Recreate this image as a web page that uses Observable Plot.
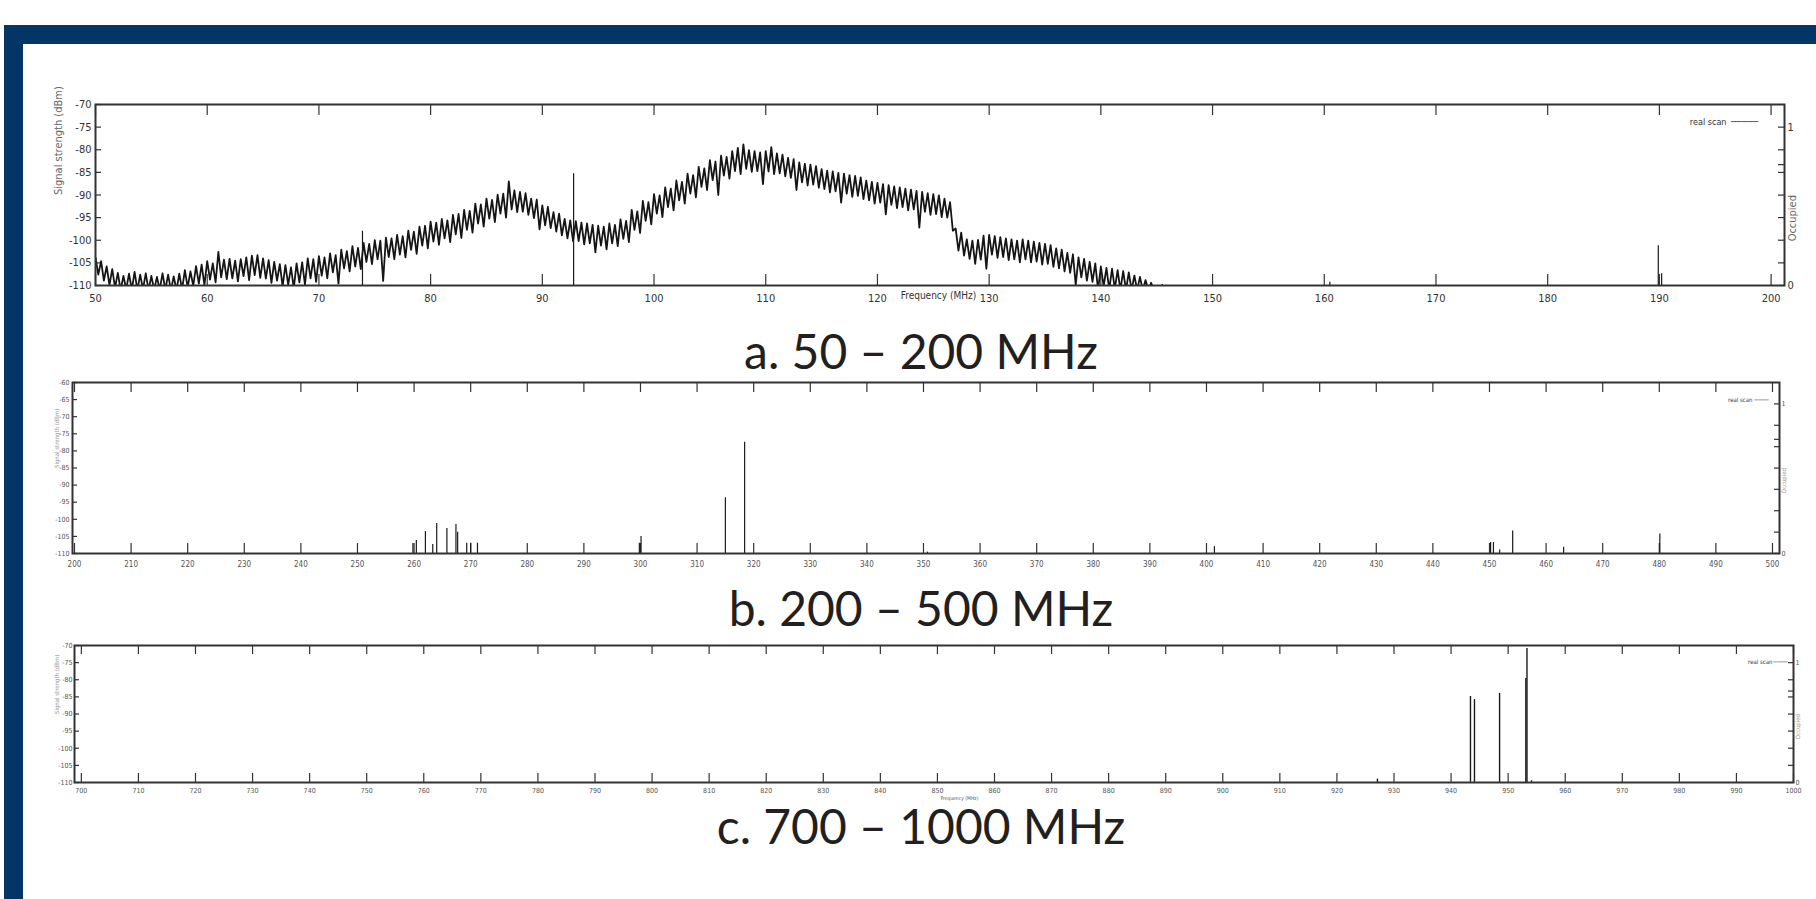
<!DOCTYPE html>
<html><head><meta charset="utf-8">
<script src="https://cdn.jsdelivr.net/npm/d3@7"></script>
<script src="https://cdn.jsdelivr.net/npm/@observablehq/plot@0.6"></script>
<style>
html,body{margin:0;padding:0;background:#fff;width:1816px;height:899px;overflow:hidden;}
#page{position:relative;width:1816px;height:899px;background:#fff;}
.band{position:absolute;background:#033567;}
.title{position:absolute;left:0;width:1842px;text-align:center;font-family:Lato,"Noto Sans",sans-serif;font-size:48px;line-height:48px;color:#231f20;white-space:nowrap;}
.panel{position:absolute;left:0;width:1816px;}
.panel svg{position:absolute;left:0;top:0;}
</style></head><body><div id="page"></div>
<script>
// ---------- DATA ----------
// Panel a: 50 - 200 MHz
const aXTicks = [50,60,70,80,90,100,110,120,130,140,150,160,170,180,190,200];
const aYTicks = [-110,-105,-100,-95,-90,-85,-80,-75,-70];
// scan samples every 0.25 MHz from 50 to 145 MHz (dBm), one row of four per MHz
const aScanDbm = [
-103.8,-107.6,-104.6,-108.9, -105.8,-109.9,-106.4,-110.5, -107.2,-111.0,-107.9,-110.8, -107.4,-110.9,-107.0,-111.0,
-107.6,-110.8,-107.3,-111.0, -107.9,-111.0,-108.1,-110.9, -107.3,-110.9,-107.6,-111.0, -108.0,-111.0,-107.4,-110.9,
-106.6,-110.4,-106.9,-110.1, -105.7,-109.6,-105.4,-109.9, -104.6,-108.7,-105.1,-109.3, -102.6,-108.2,-104.3,-108.6,
-104.1,-108.4,-104.5,-109.1, -104.2,-107.9,-103.8,-108.8, -103.4,-107.7,-103.3,-108.3, -104.0,-108.5,-104.4,-109.4,
-104.8,-108.9,-105.3,-110.2, -105.5,-109.8,-106.0,-110.6, -105.1,-109.3,-104.9,-109.8, -104.0,-108.4,-104.2,-109.2,
-103.5,-107.8,-103.8,-108.4, -102.9,-107.1,-103.3,-109.6, -102.1,-106.2,-102.4,-106.9, -101.3,-105.8,-101.7,-106.4,
-100.6,-104.8,-100.8,-105.3, -100.0,-104.2,-100.1,-109.0, -99.4,-103.7,-99.6,-104.2, -98.8,-103.2,-99.1,-103.8,
-97.9,-102.1,-98.1,-103.0, -97.0,-101.2,-96.8,-101.8, -95.9,-100.3,-96.1,-101.0, -95.3,-99.6,-95.6,-100.4,
-94.4,-98.7,-94.2,-99.5, -93.3,-97.7,-93.5,-98.3, -91.9,-96.3,-92.1,-97.0, -90.8,-95.2,-91.1,-96.0,
-89.9,-94.1,-89.7,-95.0, -87.0,-93.2,-89.0,-93.8, -89.3,-93.7,-89.6,-94.4, -90.8,-95.1,-91.0,-97.6,
-92.3,-96.7,-92.6,-97.3, -93.8,-98.1,-94.1,-98.9, -95.3,-99.6,-95.6,-100.2, -95.8,-100.2,-96.1,-100.9,
-96.3,-100.7,-96.6,-102.7, -96.8,-101.2,-97.0,-102.0, -96.3,-100.7,-96.6,-101.3, -95.4,-99.7,-95.7,-100.4,
-93.3,-97.7,-93.6,-98.4, -91.3,-95.7,-91.6,-96.5, -89.8,-94.1,-90.1,-94.9, -88.3,-92.7,-88.6,-93.4,
-86.8,-91.2,-87.1,-91.9, -85.3,-89.7,-85.6,-90.5, -83.8,-88.2,-84.1,-88.9, -82.3,-86.7,-82.6,-90.0,
-81.3,-85.7,-81.6,-86.4, -80.3,-84.7,-79.6,-85.4, -78.8,-84.2,-80.1,-84.9, -80.3,-84.7,-80.6,-87.6,
-80.3,-84.8,-79.4,-85.4, -80.8,-85.2,-81.1,-85.9, -81.8,-86.2,-82.1,-88.9, -82.8,-87.2,-83.1,-87.9,
-83.3,-87.7,-83.6,-88.4, -84.3,-88.7,-84.6,-89.4, -84.8,-89.2,-85.1,-91.7, -85.3,-89.7,-85.6,-90.4,
-85.8,-90.2,-86.1,-90.9, -86.8,-91.2,-87.1,-91.9, -87.3,-91.7,-87.6,-94.3, -87.8,-92.2,-88.1,-92.9,
-88.3,-92.7,-88.6,-93.4, -88.8,-93.2,-89.1,-97.2, -89.3,-93.7,-89.6,-94.4, -89.8,-94.2,-90.1,-94.9,
-90.8,-95.0,-91.6,-97.9, -97.4,-102.3,-98.3,-103.4, -99.8,-104.1,-100.1,-105.2, -99.9,-104.3,-99.0,-106.3,
-98.8,-103.2,-99.1,-103.9, -99.3,-103.7,-99.6,-104.4, -99.8,-104.2,-100.1,-104.9, -99.8,-104.2,-100.1,-104.9,
-100.3,-104.7,-100.6,-105.4, -100.8,-105.2,-101.1,-105.9, -101.8,-106.2,-102.1,-106.9, -102.8,-107.2,-103.1,-109.9,
-103.8,-108.2,-104.1,-108.9, -104.8,-109.2,-105.1,-111.0, -105.8,-110.2,-106.1,-110.9, -106.3,-110.7,-106.6,-111.0,
-106.8,-111.0,-107.1,-111.0, -107.8,-111.0,-108.1,-111.0, -108.8,-111.0,-109.4,-111.0, -112.0
];
const aSpikeFreq = [73.9, 92.8, 145.5, 160.5, 189.9, 190.2];
const aSpikeDbm = [-98.0, -85.3, -109.8, -109.3, -101.2, -107.4];

// Panel b: 200 - 500 MHz
const bXTicks = [200,210,220,230,240,250,260,270,280,290,300,310,320,330,340,350,360,370,380,390,400,410,420,430,440,450,460,470,480,490,500];
const bYTicks = [-110,-105,-100,-95,-90,-85,-80,-75,-70,-65,-60];
const bSpikeFreq = [259.8,260.4,262.0,263.3,264.0,265.8,267.4,267.7,269.3,270.0,271.2,299.8,300.1,315.0,318.4,350.7,401.4,450.2,450.7,451.8,454.1,463.1,480.1];
const bSpikeDbm  = [-107.1,-106.2,-103.6,-107.4,-101.2,-102.7,-101.5,-103.8,-107.0,-107.0,-107.0,-107.0,-105.0,-93.7,-77.5,-109.6,-108.0,-106.8,-106.8,-109.0,-103.4,-108.2,-104.3];

// Panel c: 700 - 1000 MHz
const cXTicks = [700,710,720,730,740,750,760,770,780,790,800,810,820,830,840,850,860,870,880,890,900,910,920,930,940,950,960,970,980,990,1000];
const cYTicks = [-110,-105,-100,-95,-90,-85,-80,-75,-70];
const cSpikeFreq = [927.1, 943.4, 944.1, 948.5, 953.1, 953.3, 954.1];
const cSpikeDbm  = [-109.0, -84.9, -85.8, -84.0, -79.6, -70.9, -109.5];

// Right-hand "Occupied" axis
const occTicks = [0, 0.143, 0.286, 0.429, 0.571, 0.714, 0.763, 0.857, 1];
const occLabels = [0, 1];
const occMax = 1.143;

const titles = ["a. 50 \u2013 200 MHz", "b. 200 \u2013 500 MHz", "c. 700 \u2013 1000 MHz"];

// ---------- LAYOUT ----------
const page = document.getElementById("page");
function box(cls, css, text) {
  const d = document.createElement("div");
  d.className = cls;
  Object.assign(d.style, css);
  if (text) d.textContent = text;
  page.appendChild(d);
  return d;
}
box("band", {left: "4px", top: "25px", width: "1812px", height: "19px"});
box("band", {left: "4px", top: "25px", width: "19px", height: "874px"});

const NARROW = "'Liberation Sans Narrow','DejaVu Sans Condensed','Arial Narrow','Liberation Sans',sans-serif";
const INK = "#333";

function panel(cfg, data) {
  const {top, height, mt, mb, ml, mr, xDomain, yDomain} = cfg;
  const frameW = 1816 - ml - mr, frameH = height - mt - mb;
  const holder = box("panel", {top: top + "px", height: height + "px"});
  const common = {
    width: 1816, height, marginTop: mt, marginBottom: mb, marginLeft: ml, marginRight: mr,
    style: {background: "transparent", fontFamily: NARROW, overflow: "visible"}
  };
  const marks = [
    Plot.axisX({ticks: data.xTicks, tickSize: 0, tickPadding: cfg.xPad, tickFormat: d => String(d),
      fontSize: cfg.xFont, fill: cfg.labelColor, label: null}),
    Plot.axisY({ticks: data.yTicks, tickSize: 0, tickPadding: cfg.yPad, tickFormat: d => String(d),
      fontSize: cfg.yFont, fill: cfg.labelColor, label: null}),
    Plot.tickX(data.xTicks, {x: d => d, insetTop: frameH - cfg.xTickLen, stroke: INK, strokeWidth: 1.2}),
    Plot.tickX(data.xTicks, {x: d => d, insetBottom: frameH - cfg.xTickLen, stroke: INK, strokeWidth: 1.2}),
    Plot.tickY(data.yTicks, {y: d => d, insetRight: frameW - cfg.yTickLen, stroke: INK, strokeWidth: 1.2})
  ];
  if (data.scan) {
    marks.push(Plot.line(data.scan, {x: "f", y: "v", stroke: "#151515", strokeWidth: 1.8, strokeLinejoin: "round", clip: true}));
  }
  marks.push(Plot.ruleX(data.spikes, {x: "f", y1: yDomain[0] - 2, y2: "v", stroke: "#1a1a1a", strokeWidth: cfg.spikeW, clip: true}));
  marks.push(Plot.frame({stroke: INK, strokeWidth: 2}));
  marks.push(Plot.text(["Signal strength (dBm)"], {frameAnchor: "left", rotate: -90, dx: cfg.ylabDx,
    fontSize: cfg.ylabFont, fill: cfg.ylabColor}));
  marks.push(Plot.text(["real scan"], {frameAnchor: "top-right", textAnchor: "end", dx: cfg.legDx, dy: cfg.legDy,
    fontSize: cfg.legFont, fill: "#333"}));
  marks.push(Plot.text([cfg.legLine], {frameAnchor: "top-right", textAnchor: "middle", dx: cfg.legLineDx, dy: cfg.legDy,
    fontSize: cfg.legFont, fill: "#333", fontFamily: "'DejaVu Sans Mono',monospace"}));
  if (cfg.freqLab) {
    marks.push(Plot.text(["Frequency (MHz)"], {frameAnchor: "bottom", dx: cfg.freqDx, dy: cfg.freqDy,
      fontSize: cfg.freqFont, fill: cfg.labelColor}));
  }
  const svg1 = Plot.plot({...common, x: {domain: xDomain, label: null}, y: {domain: yDomain, label: null}, marks});
  const svg2 = Plot.plot({...common, y: {domain: [0, occMax], label: null}, marks: [
    Plot.tickY(occTicks, {y: d => d, insetLeft: frameW - cfg.yTickLen, stroke: INK, strokeWidth: 1.2}),
    Plot.axisY({anchor: "right", ticks: occLabels, tickSize: 0, tickPadding: cfg.occPad, tickFormat: d => String(d),
      fontSize: cfg.yFont, fill: cfg.labelColor, label: null}),
    Plot.text(["Occupied"], {frameAnchor: "right", rotate: -90, dx: cfg.occDx, fontSize: cfg.ylabFont, fill: cfg.ylabColor})
  ]});
  holder.appendChild(svg1);
  holder.appendChild(svg2);
}

const toRows = (fs, vs) => fs.map((f, i) => ({f, v: vs[i]}));
const aScanFreq = d3.range(50, 145.25, 0.25);

panel({top: 60, height: 260, mt: 44, mb: 35, ml: 95, mr: 32, xDomain: [50, 201.2], yDomain: [-110, -70],
  xPad: 9, yPad: 4, xFont: 11, yFont: 11, labelColor: "#333", xTickLen: 11, yTickLen: 6, spikeW: 1.2,
  ylabDx: -37, ylabFont: 11, ylabColor: "#666", legDx: -58, legDy: 14, legFont: 9, legLine: "\u2500\u2500\u2500\u2500\u2500", legLineDx: -40,
  freqLab: true, freqDx: -1.5, freqDy: 13, freqFont: 10, occPad: 3, occDx: 8},
  {xTicks: aXTicks, yTicks: aYTicks, scan: toRows(aScanFreq, aScanDbm), spikes: toRows(aSpikeFreq, aSpikeDbm)});

panel({top: 340, height: 250, mt: 42, mb: 37, ml: 72, mr: 37, xDomain: [199.65, 501.24], yDomain: [-110, -60],
  xPad: 8, yPad: 3, xFont: 8, yFont: 7, labelColor: "#555", xTickLen: 10, yTickLen: 5, spikeW: 1.2,
  ylabDx: -15.5, ylabFont: 6, ylabColor: "#999", legDx: -27, legDy: 15, legFont: 6, legLine: "\u2500\u2500\u2500\u2500", legLineDx: -18,
  freqLab: false, occPad: 2, occDx: 5},
  {xTicks: bXTicks, yTicks: bYTicks, spikes: toRows(bSpikeFreq, bSpikeDbm)});

panel({top: 600, height: 220, mt: 45, mb: 38, ml: 74, mr: 23, xDomain: [698.8, 1000], yDomain: [-110, -70],
  xPad: 6, yPad: 2, xFont: 7, yFont: 7, labelColor: "#555", xTickLen: 9, yTickLen: 5, spikeW: 1.4,
  ylabDx: -17.5, ylabFont: 6, ylabColor: "#999", legDx: -21, legDy: 14, legFont: 6, legLine: "\u2500\u2500\u2500\u2500", legLineDx: -13,
  freqLab: true, freqDx: 25.5, freqDy: 17, freqFont: 5, occPad: 2, occDx: 5},
  {xTicks: cXTicks, yTicks: cYTicks, spikes: toRows(cSpikeFreq, cSpikeDbm)});

box("title", {top: "327px"}, titles[0]);
box("title", {top: "584px"}, titles[1]);
box("title", {top: "802px"}, titles[2]);
</script>
</body></html>
